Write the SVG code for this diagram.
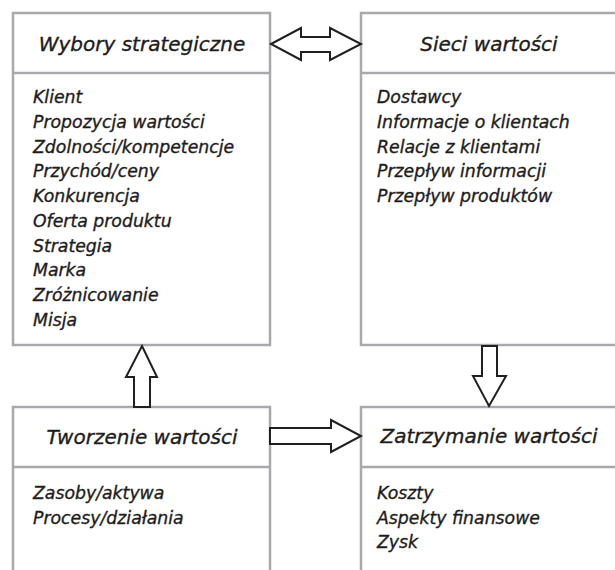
<svg xmlns="http://www.w3.org/2000/svg" width="615" height="570" viewBox="0 0 615 570">
<style>
.box{fill:#fff;stroke:#a8a9ad;stroke-width:2.5}
.div{stroke:#a8a9ad;stroke-width:2.5}
.t{font-family:"DejaVu Sans",sans-serif;font-style:italic;fill:#1e1c1d;stroke:#1e1c1d;stroke-width:0.35}
.title{font-size:20px;text-anchor:middle}
.body{font-size:17.3px}
.arr{fill:#fff;stroke:#231f20;stroke-width:2;stroke-linejoin:miter}
</style>
<rect width="615" height="570" fill="#fff"/>
<g id="wybory">
<rect class="box" x="13" y="13" width="257" height="332"/>
<line class="div" x1="13" y1="73" x2="270" y2="73"/>
<text class="t title" x="142" y="51">Wybory strategiczne</text>
<text class="t body" x="33" y="103">Klient</text>
<text class="t body" x="33" y="128">Propozycja wartości</text>
<text class="t body" x="33" y="153">Zdolności/kompetencje</text>
<text class="t body" x="33" y="177">Przychód/ceny</text>
<text class="t body" x="33" y="202">Konkurencja</text>
<text class="t body" x="33" y="227">Oferta produktu</text>
<text class="t body" x="33" y="252">Strategia</text>
<text class="t body" x="33" y="276">Marka</text>
<text class="t body" x="33" y="301">Zróżnicowanie</text>
<text class="t body" x="33" y="326">Misja</text>
</g>
<g id="sieci">
<rect class="box" x="361" y="13" width="260" height="332"/>
<line class="div" x1="361" y1="73" x2="621" y2="73"/>
<text class="t title" x="489" y="51">Sieci wartości</text>
<text class="t body" x="377" y="103">Dostawcy</text>
<text class="t body" x="377" y="128">Informacje o klientach</text>
<text class="t body" x="377" y="153">Relacje z klientami</text>
<text class="t body" x="377" y="177">Przepływ informacji</text>
<text class="t body" x="377" y="202">Przepływ produktów</text>
</g>
<g id="tworzenie">
<rect class="box" x="13" y="407" width="257" height="180"/>
<line class="div" x1="13" y1="467" x2="270" y2="467"/>
<text class="t title" x="142" y="444">Tworzenie wartości</text>
<text class="t body" x="33" y="499">Zasoby/aktywa</text>
<text class="t body" x="33" y="524">Procesy/działania</text>
</g>
<g id="zatrzymanie">
<rect class="box" x="361" y="407" width="260" height="180"/>
<line class="div" x1="361" y1="467" x2="621" y2="467"/>
<text class="t title" x="489" y="443">Zatrzymanie wartości</text>
<text class="t body" x="377" y="499">Koszty</text>
<text class="t body" x="377" y="524">Aspekty finansowe</text>
<text class="t body" x="377" y="548">Zysk</text>
</g>
<g id="connectors">
<polygon class="arr" points="271,44 301,28 301,37 330,37 330,28 361,44 330,60 330,52 301,52 301,60"/>
<polygon class="arr" points="142,346 157,377 150,377 150,407 134,407 134,377 126,377"/>
<polygon class="arr" points="482,346 497,346 497,376 506,376 489,406 473,376 482,376"/>
<polygon class="arr" points="270,428 331,428 331,420 361,436 331,452 331,444 270,444"/>
</g>
</svg>
